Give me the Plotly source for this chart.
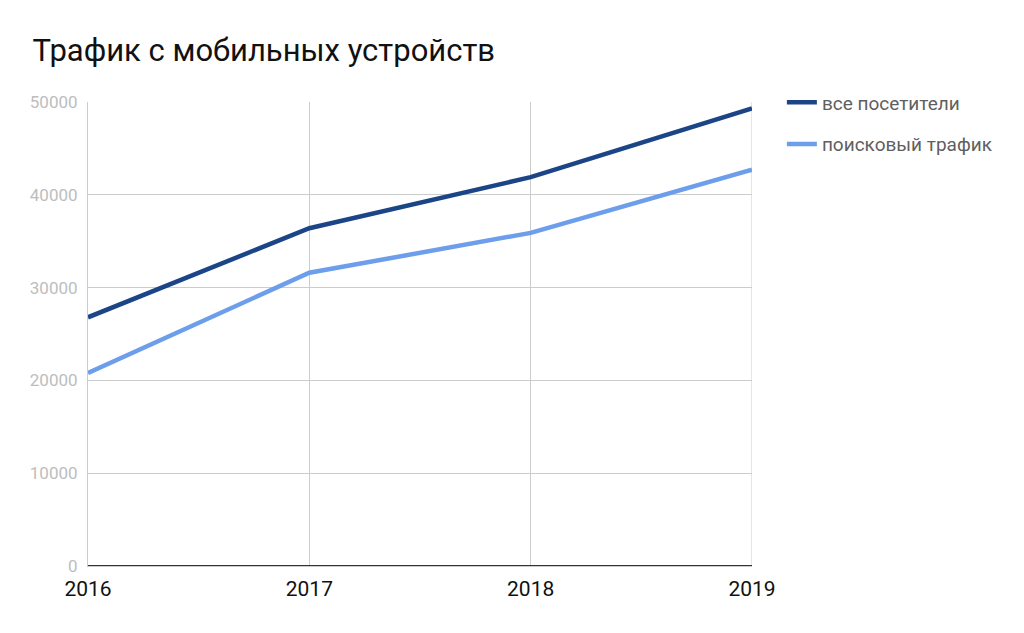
import plotly.graph_objects as go

years = [2016, 2017, 2018, 2019]
all_visitors = [26800, 36400, 41900, 49300]
search_traffic = [20800, 31600, 35900, 42700]
y_ticks = [0, 10000, 20000, 30000, 40000, 50000]

fig = go.Figure()
fig.add_trace(go.Scatter(
    x=years, y=all_visitors, mode="lines", name="все посетители",
    legendgroup="a", line=dict(color="#1c4587", width=4.5)
))
fig.add_trace(go.Scatter(
    x=years, y=search_traffic, mode="lines", name="поисковый трафик",
    legendgroup="b", line=dict(color="#6d9eeb", width=4.5)
))

# page is drawn with an 8px body margin, so margins are shifted by 8
fig.update_layout(
    width=1024, height=633,
    margin=dict(l=80, r=280, t=94, b=75),
    paper_bgcolor="white", plot_bgcolor="white",
    font=dict(family="Roboto", color="#222"),
    title=dict(text="Трафик с мобильных устройств", x=0.024, xanchor="left",
               y=0.934, yanchor="middle", font=dict(size=31, color="#111")),
    legend=dict(x=1.045, y=1.04, xanchor="left", yanchor="top",
                font=dict(size=19, color="#5f5f5f"), tracegroupgap=14,
                itemwidth=30),
    showlegend=True,
)
fig.update_xaxes(
    range=[2016, 2019], tickvals=years, ticktext=[str(y) for y in years],
    showgrid=True, gridcolor="#cccccc", gridwidth=1,
    showline=True, linecolor="#cccccc", mirror=False,
    tickfont=dict(size=21, color="#111"), ticklabelstandoff=4,
    zeroline=False,
)
fig.update_yaxes(
    range=[0, 50000], tickvals=y_ticks, ticktext=[str(v) for v in y_ticks],
    showgrid=True, gridcolor="#cccccc", gridwidth=1,
    showline=True, linecolor="#cccccc",
    zeroline=False,
    tickfont=dict(size=17, color="#bdbdbd"), ticklabelstandoff=6,
)
# dark baseline at zero and right edge grid line
fig.add_hline(y=0, line=dict(color="#333333", width=2), layer="above")
fig.add_vline(x=2019, line=dict(color="#cccccc", width=1), layer="below")

fig.write_html("out.html")
